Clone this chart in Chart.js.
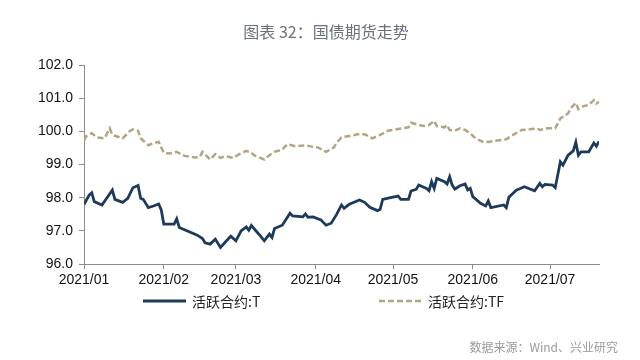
<!DOCTYPE html>
<html>
<head>
<meta charset="utf-8">
<script src="https://cdn.jsdelivr.net/npm/chart.js@4/dist/chart.umd.min.js"></script>
<style>
  html, body { margin: 0; padding: 0; background: #fff; }
  #wrap { width: 640px; height: 360px; }
</style>
</head>
<body>
<div id="wrap"><canvas id="myChart"></canvas></div>
<script>
// x values are days counted from 2021-01-01 (calendar days, like the original axis)
const monthStarts = [0, 31, 59, 90, 120, 151, 181];
const monthLabels = ['2021/01', '2021/02', '2021/03', '2021/04', '2021/05', '2021/06', '2021/07'];

const tDays = [0, 2, 3, 4, 7, 11, 12, 15, 17, 19, 21, 22, 23, 25, 27, 29, 30, 31, 35, 36, 37,
  44, 46, 47, 49, 51, 53, 55, 57, 59, 61, 63, 64, 65, 68, 70, 72, 73, 74, 77, 80, 81, 85, 86, 87,
  89, 92, 94, 96, 98, 100, 101, 103, 107, 109, 111, 114, 115, 116, 119, 122, 123, 126, 127, 129,
  130, 133, 134, 135, 136, 137, 140, 141, 142, 143, 144, 146, 148, 149, 150, 151, 154, 156, 157,
  158, 163, 164, 165, 168, 169, 171, 175, 177, 178, 179, 182, 183, 185, 186, 188, 190, 191, 192,
  193, 196, 198, 199, 200];
const tValues = [97.80, 98.08, 98.15, 97.88, 97.78, 98.23, 97.95, 97.86, 97.98, 98.30, 98.37, 97.98,
  97.95, 97.70, 97.75, 97.81, 97.63, 97.20, 97.20, 97.36, 97.10,
  96.87, 96.77, 96.64, 96.60, 96.75, 96.50, 96.67, 96.84, 96.70, 97.00, 97.12, 97.02, 97.16, 96.89,
  96.70, 96.90, 96.80, 97.07, 97.17, 97.53, 97.45, 97.42, 97.51, 97.41,
  97.42, 97.33, 97.17, 97.23, 97.48, 97.78, 97.68, 97.80, 97.93, 97.86, 97.71, 97.61, 97.65, 97.95,
  98.00, 98.05, 97.95, 97.95, 98.20, 98.25,
  98.38, 98.28, 98.21, 98.48, 98.28, 98.58, 98.48, 98.41, 98.63, 98.38, 98.26, 98.36, 98.41, 98.23,
  98.28, 98.03, 97.83, 97.75, 97.90,
  97.70, 97.78, 97.70, 98.01, 98.23, 98.26, 98.33, 98.21, 98.43, 98.33, 98.40, 98.38, 98.30, 99.08,
  98.98, 99.28, 99.41, 99.67, 99.28,
  99.38, 99.38, 99.65, 99.55, 99.70];

const tfDays = [0, 1, 3, 5, 8, 10, 11, 15, 18, 19, 21, 22, 25, 27, 29, 31, 33, 36, 39, 43, 45, 46,
  48, 49, 51, 53, 55, 58, 60, 63, 65, 66, 70, 72, 74, 77, 79, 82, 86, 89, 91, 94, 97, 98, 100, 103,
  107, 109, 112, 115, 118, 122, 126, 127, 130, 132, 134, 136, 137, 140, 141, 142, 144, 146, 148,
  150, 152, 155, 157, 161, 164, 167, 170, 173, 176, 177, 180, 183, 185, 186, 188, 189, 191, 192,
  194, 196, 198, 199, 200];
const tfValues = [99.73, 99.86, 99.94, 99.82, 99.79, 100.09, 99.89, 99.79, 100.02, 100.06, 100.02,
  99.79, 99.58, 99.65, 99.68, 99.35, 99.33, 99.38, 99.26, 99.21, 99.23, 99.38,
  99.23, 99.15, 99.31, 99.20, 99.25, 99.20, 99.30, 99.41, 99.36, 99.28, 99.15, 99.28, 99.38, 99.45,
  99.61, 99.55, 99.58, 99.53, 99.51, 99.38, 99.51, 99.64, 99.82, 99.86,
  99.92, 99.91, 99.79, 99.89, 100.02, 100.07, 100.12, 100.26, 100.19, 100.16, 100.19, 100.32,
  100.16, 100.12, 100.19, 100.04, 100.02, 100.09, 100.04,
  99.94, 99.79, 99.68, 99.68, 99.73, 99.76, 99.91, 100.04, 100.06, 100.09, 100.04, 100.09, 100.09,
  100.39, 100.44, 100.54, 100.69, 100.86, 100.67,
  100.76, 100.79, 100.94, 100.84, 100.89];

const seriesNames = ['活跃合约:T', '活跃合约:TF'];
const yTicks = [96, 97, 98, 99, 100, 101, 102];

const toPoints = (days, vals) => days.map((d, i) => ({ x: d, y: vals[i] }));

Chart.defaults.font.family = 'Liberation Sans';
Chart.defaults.color = '#111';

// title on top, legend under the x axis, source note bottom right
const decorations = {
  id: 'decorations',
  afterDraw(chart) {
    const ctx = chart.ctx;
    ctx.save();
    ctx.fillStyle = '#6a717c';
    ctx.font = '16px "Noto Sans CJK SC"';
    ctx.textAlign = 'center';
    ctx.textBaseline = 'middle';
    ctx.fillText('图表 32：国债期货走势', 326, 32);

    const spots = [143, 379];
    const y = 301;
    chart.data.datasets.forEach((ds, i) => {
      const x = spots[i];
      ctx.beginPath();
      ctx.strokeStyle = ds.borderColor;
      ctx.lineWidth = ds.borderWidth;
      ctx.setLineDash(ds.borderDash || []);
      ctx.moveTo(x, y);
      ctx.lineTo(x + 43, y);
      ctx.stroke();
      ctx.setLineDash([]);
      ctx.fillStyle = '#222';
      ctx.font = '14px "Noto Sans CJK SC"';
      ctx.textAlign = 'left';
      ctx.fillText(ds.label, x + 49, y + 1);
    });
    ctx.fillStyle = '#9a9a9a';
    ctx.font = '12px "Noto Sans CJK SC"';
    ctx.textAlign = 'right';
    ctx.fillText('数据来源：Wind、兴业研究', 618, 347);
    ctx.restore();
  }
};

const ctx = document.getElementById('myChart');

new Chart(ctx, {
  type: 'line',
  data: {
    datasets: [
      {
        label: seriesNames[0],
        data: toPoints(tDays, tValues),
        borderColor: '#1d3a5a',
        borderWidth: 2.8,
        pointRadius: 0,
        tension: 0,
        fill: false
      },
      {
        label: seriesNames[1],
        data: toPoints(tfDays, tfValues),
        borderColor: '#b3a584',
        borderWidth: 2.5,
        borderDash: [6, 3],
        pointRadius: 0,
        tension: 0,
        fill: false
      }
    ]
  },
  options: {
    responsive: true,
    maintainAspectRatio: false,
    animation: false,
    layout: { padding: { left: 0, right: 41, top: 65, bottom: 66 } },
    plugins: {
      legend: { display: false },
      tooltip: { enabled: false },
      title: { display: false }
    },
    scales: {
      x: {
        type: 'linear',
        min: 0,
        max: 200,
        afterBuildTicks: (scale) => { scale.ticks = monthStarts.map(v => ({ value: v })); },
        afterFit: (scale) => { scale.height = 30; },
        ticks: {
          autoSkip: false,
          maxRotation: 0,
          padding: 3,
          color: '#111',
          font: { size: 14 },
          callback: (v, i) => monthLabels[i]
        },
        grid: { drawOnChartArea: false, drawTicks: true, tickLength: 5, color: '#8c8c8c' },
        border: { color: '#8c8c8c', width: 1 }
      },
      y: {
        min: 96,
        max: 102,
        afterBuildTicks: (scale) => { scale.ticks = yTicks.map(v => ({ value: v })); },
        afterFit: (scale) => { scale.width = 84; },
        ticks: {
          padding: 6,
          color: '#111',
          font: { size: 14 },
          callback: (v) => Number(v).toFixed(1)
        },
        grid: { drawOnChartArea: false, drawTicks: true, tickLength: 5, color: '#8c8c8c' },
        border: { color: '#8c8c8c', width: 1 }
      }
    }
  },
  plugins: [decorations]
});
</script>
</body>
</html>
